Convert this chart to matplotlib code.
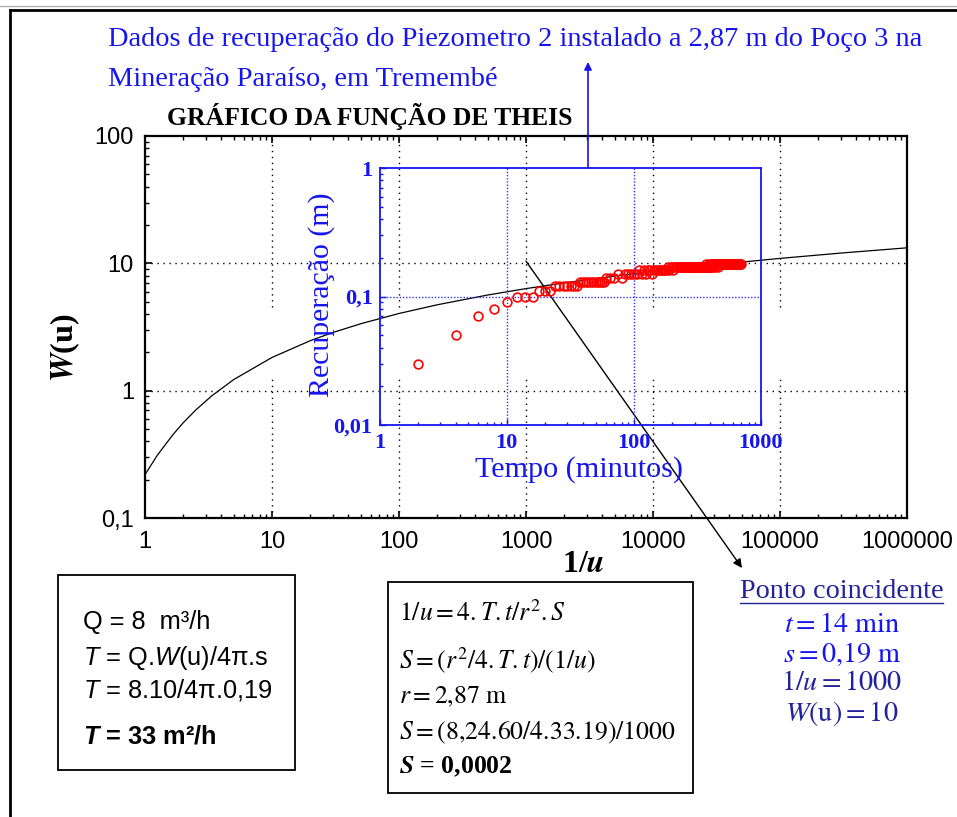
import matplotlib
matplotlib.use('Agg')
import matplotlib.pyplot as plt
from matplotlib.lines import Line2D
from matplotlib.patches import Rectangle
from matplotlib.ticker import LogLocator, NullFormatter

plt.rcParams['mathtext.rm'] = 'Liberation Sans'
plt.rcParams['mathtext.it'] = 'Liberation Sans:italic'
plt.rcParams['mathtext.bf'] = 'Liberation Sans:bold'
plt.rcParams['mathtext.bfit'] = 'Liberation Sans:italic:bold'

# ---------------- data ----------------
# Theis well function curve (1/u, W(u))
inv_u = [1, 1.25, 1.667, 2, 2.5, 3.333, 5, 10, 20, 30, 50, 100, 200, 500,
         1000, 2000, 5000, 10000, 30000, 100000, 300000, 1000000]
W_u = [0.219, 0.311, 0.454, 0.560, 0.702, 0.906, 1.223, 1.823, 2.468, 2.857,
       3.355, 4.038, 4.726, 5.639, 6.332, 7.024, 7.940, 8.633, 9.732, 10.936,
       12.034, 13.238]

# recovery data (time in minutes, recovery in m)
tempo_min = [2, 4, 6, 8, 10, 12, 14, 16, 18, 20, 22,
             24, 26, 28, 30, 32, 34, 36,
             38, 40, 42, 44, 46, 48, 50, 52, 54, 56, 58,
             60, 65, 70, 75, 80, 85, 90, 95,
             100, 105, 110, 115, 120, 125, 130, 135, 140, 145, 150, 155, 160, 165, 170, 175,
             180, 185, 190, 195, 200, 205, 210, 215, 220, 225, 230, 235, 240, 245, 250, 255,
             260, 265, 270, 275,
             280, 285, 290, 295, 300, 305, 310, 315, 320, 325, 330, 335, 340, 345, 350, 355,
             360, 365, 370, 375, 380, 385, 390, 395, 400, 405, 410, 415, 420, 425, 430, 435, 440,
             445, 450, 455, 460, 465, 470, 475, 480, 485, 490, 495, 500, 505, 510, 515, 520,
             525, 530, 535, 540, 545, 550, 555, 560, 565, 570, 575, 580, 585, 590, 595, 600,
             605, 610, 615, 620, 625, 630, 635, 640, 645, 650, 655, 660, 665, 670, 675, 680,
             685, 690]
recup_m = [0.03, 0.05, 0.07, 0.08, 0.09, 0.10, 0.10, 0.10, 0.11, 0.11, 0.11,
           0.12, 0.12, 0.12, 0.12, 0.12, 0.12, 0.12,
           0.13, 0.13, 0.13, 0.13, 0.13, 0.13, 0.13, 0.13, 0.13, 0.13, 0.13,
           0.14, 0.14, 0.14, 0.15, 0.14, 0.15, 0.15, 0.15,
           0.15, 0.15, 0.16, 0.15, 0.16, 0.15, 0.16, 0.16, 0.15, 0.16, 0.16, 0.16, 0.16, 0.16, 0.16, 0.16,
           0.16, 0.17, 0.16, 0.17, 0.17, 0.16, 0.17, 0.17, 0.17, 0.17, 0.17, 0.17, 0.17, 0.17, 0.17, 0.17,
           0.17, 0.17, 0.17, 0.17,
           0.17, 0.17, 0.17, 0.17, 0.17, 0.17, 0.17, 0.17, 0.17, 0.17, 0.17, 0.17, 0.17, 0.17, 0.17, 0.17,
           0.17, 0.17, 0.18, 0.17, 0.17, 0.17, 0.18, 0.17, 0.17, 0.18, 0.17, 0.18, 0.17, 0.18, 0.18, 0.17, 0.18,
           0.18, 0.18, 0.17, 0.18, 0.18, 0.18, 0.18, 0.18, 0.18, 0.18, 0.18, 0.18, 0.18, 0.18, 0.18, 0.18,
           0.18, 0.18, 0.18, 0.18, 0.18, 0.18, 0.18, 0.18, 0.18, 0.18, 0.18, 0.18, 0.18, 0.18, 0.18, 0.18,
           0.18, 0.18, 0.18, 0.18, 0.18, 0.18, 0.18, 0.18, 0.18, 0.18, 0.18, 0.18, 0.18, 0.18, 0.18, 0.18,
           0.18, 0.18]

main_xticks = [1, 10, 100, 1000, 10000, 100000, 1000000]
main_xlabels = ['1', '10', '100', '1000', '10000', '100000', '1000000']
main_yticks = [0.1, 1, 10, 100]
main_ylabels = ['0,1', '1', '10', '100']
inset_xticks = [1, 10, 100, 1000]
inset_xlabels = ['1', '10', '100', '1000']
inset_yticks = [0.01, 0.1, 1]
inset_ylabels = ['0,01', '0,1', '1']

match_inv_u = 1000
match_W = 10.4

# ---------------- figure ----------------
W_PX, H_PX = 957, 817
fig = plt.figure(figsize=(W_PX / 100, H_PX / 100), dpi=100)
fig.patch.set_facecolor('white')


def P(x, y):
    return (x / W_PX, 1 - y / H_PX)


def rect(l, t, r, b):
    return [l / W_PX, 1 - b / H_PX, (r - l) / W_PX, (b - t) / H_PX]


renderer = fig.canvas.get_renderer()


def fit(t, target, vertical=False):
    bb = t.get_window_extent(renderer)
    cur = bb.height if vertical else bb.width
    t.set_fontsize(t.get_fontsize() * target / cur)
    return t.get_fontsize()


BLUE = '#1515f0'
NAVY = '#22229a'

# frame lines
fig.add_artist(Line2D([0, 1], [1 - 6 / H_PX] * 2, transform=fig.transFigure,
                      color='#b0b0b0', lw=1))
fig.add_artist(Line2D([10 / W_PX, 1], [1 - 10 / H_PX] * 2, transform=fig.transFigure,
                      color='black', lw=2))
fig.add_artist(Line2D([10 / W_PX] * 2, [0, 1 - 10 / H_PX], transform=fig.transFigure,
                      color='black', lw=2))

# ---------------- main axes ----------------
ax = fig.add_axes(rect(145, 136, 907, 518))
ax.set_xscale('log')
ax.set_yscale('log')
ax.set_xlim(1, 1e6)
ax.set_ylim(0.1, 100)
ax.patch.set_alpha(0)

dot = dict(color='black', lw=1.0, linestyle=(0, (1, 3.3)), zorder=1)
ax.vlines(main_xticks[1:-1], 0.1, 1.27, **dot)
ax.vlines(main_xticks[1:-1], 4.5, 100, **dot)
ax.hlines(main_yticks[1:-1], 1, 1e6, **dot)

ax.plot(inv_u, W_u, color='black', lw=0.9, zorder=3)

ax.set_xticks(main_xticks)
ax.set_xticklabels(main_xlabels)
ax.set_yticks(main_yticks)
ax.set_yticklabels(main_ylabels)
ax.xaxis.set_minor_locator(LogLocator(base=10, subs=range(2, 10), numticks=20))
ax.yaxis.set_minor_locator(LogLocator(base=10, subs=range(2, 10), numticks=20))
ax.xaxis.set_minor_formatter(NullFormatter())
ax.yaxis.set_minor_formatter(NullFormatter())
ax.tick_params(which='both', direction='in', top=True, right=False, color='black')
ax.tick_params(which='major', length=5, width=1.2)
ax.tick_params(which='minor', length=3, width=1)
ax.tick_params(axis='x', which='major', pad=9)
ax.tick_params(axis='y', which='major', pad=8)
for lab in ax.get_xticklabels() + ax.get_yticklabels():
    lab.set_fontfamily('Liberation Sans')
    lab.set_fontsize(17)
for s in ax.spines.values():
    s.set_linewidth(1.6)

# ---------------- inset axes ----------------
axi = fig.add_axes(rect(379.5, 168, 761, 425))
axi.set_xscale('log')
axi.set_yscale('log')
axi.set_xlim(1, 1000)
axi.set_ylim(0.01, 1)
axi.patch.set_alpha(0)
bdot = dict(color='#3030ff', lw=1.0, linestyle=(0, (1, 1.3)), zorder=1)
axi.vlines(inset_xticks[1:-1], 0.01, 1, **bdot)
axi.hlines(inset_yticks[1:-1], 1, 1000, **bdot)
axi.plot(tempo_min, recup_m, linestyle='none', marker='o', markersize=6.3,
         markerfacecolor='none', markeredgecolor='red', markeredgewidth=1.2,
         zorder=4)
axi.set_xticks(inset_xticks)
axi.set_xticklabels(inset_xlabels)
axi.set_yticks(inset_yticks)
axi.set_yticklabels(inset_ylabels)
axi.xaxis.set_minor_locator(LogLocator(base=10, subs=range(2, 10), numticks=20))
axi.yaxis.set_minor_locator(LogLocator(base=10, subs=range(2, 10), numticks=20))
axi.xaxis.set_minor_formatter(NullFormatter())
axi.yaxis.set_minor_formatter(NullFormatter())
axi.tick_params(which='both', direction='in', top=False, right=False, colors='#1515f0')
axi.tick_params(which='major', length=4, width=1)
axi.tick_params(which='minor', length=2.5, width=1)
axi.tick_params(axis='x', which='major', pad=6)
axi.tick_params(axis='y', which='major', pad=5)
for lab in axi.get_xticklabels() + axi.get_yticklabels():
    lab.set_fontfamily('Liberation Serif')
    lab.set_fontweight('bold')
    lab.set_fontsize(16)
    lab.set_color(BLUE)
for s in axi.spines.values():
    s.set_linewidth(1.3)
    s.set_color('#1515f0')

# ---------------- arrows ----------------
ax.annotate('', xy=P(742, 568), xycoords='figure fraction',
            xytext=(match_inv_u, match_W), textcoords='data',
            arrowprops=dict(arrowstyle='-|>', color='black', lw=1.0,
                            shrinkA=0, shrinkB=0, mutation_scale=13),
            annotation_clip=False, zorder=5)
axi.annotate('', xy=P(588, 62), xycoords='figure fraction',
             xytext=((588 - 379.5) / 381.5, 1.0), textcoords='axes fraction',
             arrowprops=dict(arrowstyle='-|>', color=BLUE, lw=1.2,
                             shrinkA=0, shrinkB=0, mutation_scale=11),
             annotation_clip=False)

# ---------------- texts ----------------
t1 = fig.text(*P(108, 40), 'Dados de recuperação do Piezometro 2 instalado a 2,87 m do Poço 3 na',
              family='Liberation Serif', color=BLUE, ha='left', va='center', fontsize=16)
fs = fit(t1, 815)
fig.text(*P(108, 79), 'Mineração Paraíso, em Tremembé', family='Liberation Serif',
         color=BLUE, ha='left', va='center', fontsize=fs)

tt = fig.text(*P(370, 116), 'GRÁFICO DA FUNÇÃO DE THEIS', family='Liberation Serif',
              fontweight='bold', color='black', ha='center', va='center', fontsize=14)
fit(tt, 407)

wl = fig.text(*P(65, 348), r'$\mathbfit{W}$(u)', family='Liberation Serif',
              fontweight='bold', rotation=90, ha='center', va='center', fontsize=20,
              math_fontfamily='stix')
fit(wl, 69, vertical=True)

xl = fig.text(*P(583, 565), r'1/$\mathbfit{u}$', family='Liberation Serif',
              fontweight='bold', ha='center', va='center', fontsize=20,
              math_fontfamily='stix')
fit(xl, 43)

ry = fig.text(*P(321.7, 295), 'Recuperação (m)', family='Liberation Serif', color=BLUE,
              rotation=90, ha='center', va='center', fontsize=18)
fit(ry, 206, vertical=True)
rx = fig.text(*P(579, 470), 'Tempo (minutos)', family='Liberation Serif', color=BLUE,
              ha='center', va='center', fontsize=18)
fit(rx, 208)

# left box
fig.add_artist(Rectangle(P(58, 770), 237 / W_PX, 195 / H_PX, transform=fig.transFigure,
                         fill=False, edgecolor='black', lw=1.3))
lb_kw = dict(family='Liberation Sans', ha='left', va='center', math_fontfamily='custom')
l2 = fig.text(*P(83, 658), r'$\mathit{T}$ = Q.$\mathit{W}$(u)/4π.s', fontsize=14, **lb_kw)
fs_l = fit(l2, 187)
fig.text(*P(83, 622), 'Q = 8  m³/h', fontsize=fs_l, **lb_kw)
fig.text(*P(83, 690), r'$\mathit{T}$ = 8.10/4π.0,19', fontsize=fs_l, **lb_kw)
fig.text(*P(83, 737), r'$\mathbfit{T}$ = 33 m²/h', fontsize=fs_l, fontweight='bold', **lb_kw)

# right box
fig.add_artist(Rectangle(P(388, 793), 305 / W_PX, 211 / H_PX, transform=fig.transFigure,
                         fill=False, edgecolor='black', lw=1.3))
rb_kw = dict(family='Liberation Serif', ha='left', va='center', math_fontfamily='stix')
r4 = fig.text(*P(399, 733), r'$S = (8{,}24.60/4.33.19)/1000$', fontsize=14, **rb_kw)
fs_r = fit(r4, 278)
fig.text(*P(399, 613), r'$1/u = 4.T.t/r^{2}.S$', fontsize=fs_r, **rb_kw)
fig.text(*P(399, 660), r'$S = (r^{2}/4.T.t)/(1/u)$', fontsize=fs_r, **rb_kw)
fig.text(*P(399, 697), r'$r = 2{,}87\ \mathrm{m}$', fontsize=fs_r, **rb_kw)
fig.text(*P(399, 767), r'$\mathbfit{S}$ = 0,0002', fontsize=fs_r, fontweight='bold', **rb_kw)

# coincident point block
pc = fig.text(*P(842, 591), 'Ponto coincidente', family='Liberation Serif', color=NAVY,
              ha='center', va='center', fontsize=16)
fs_p = fit(pc, 203)
fig.add_artist(Line2D([740 / W_PX, 943 / W_PX], [1 - 603 / H_PX] * 2,
                      transform=fig.transFigure, color=NAVY, lw=1))
pk = dict(family='Liberation Serif', ha='center', va='center', math_fontfamily='stix',
          fontsize=fs_p)
fig.text(*P(842, 625), r'$t = 14\ \mathrm{min}$', color=BLUE, **pk)
fig.text(*P(842, 654), r'$s = 0{,}19\ \mathrm{m}$', color=BLUE, **pk)
fig.text(*P(842, 684), r'$1/u = 1000$', color=NAVY, **pk)
fig.text(*P(842, 714), r'$W(\mathrm{u}) = 10$', color=NAVY, **pk)

fig.savefig('out.png', dpi=100)
